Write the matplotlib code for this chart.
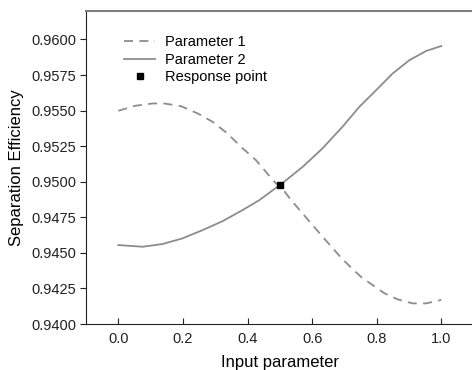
import matplotlib
matplotlib.use("Agg")
import matplotlib.pyplot as plt
from matplotlib.ticker import FormatStrFormatter

# values
x_p1 = [0.0, 0.050, 0.106, 0.142, 0.194, 0.246, 0.292, 0.338, 0.380, 0.426,
        0.457, 0.488, 0.500, 0.535, 0.566, 0.597, 0.628, 0.658, 0.689, 0.720,
        0.751, 0.787, 0.824, 0.865, 0.911, 0.953, 1.0]
y_p1 = [0.95498, 0.95533, 0.95550, 0.95550, 0.95531, 0.95480, 0.95421, 0.95339,
        0.95245, 0.95152, 0.95069, 0.94988, 0.94975, 0.94871, 0.94789, 0.94707,
        0.94625, 0.94548, 0.94468, 0.94398, 0.94332, 0.94274, 0.94216, 0.94173,
        0.94145, 0.94145, 0.94169]

x_p2 = [0.0, 0.075, 0.137, 0.199, 0.261, 0.323, 0.385, 0.437, 0.488, 0.500,
        0.571, 0.632, 0.694, 0.746, 0.798, 0.849, 0.901, 0.953, 1.0]
y_p2 = [0.94555, 0.94543, 0.94562, 0.94602, 0.94660, 0.94723, 0.94801, 0.94871,
        0.94957, 0.94975, 0.95105, 0.95234, 0.95386, 0.95526, 0.95643, 0.95760,
        0.95854, 0.95919, 0.95954]

resp_x = [0.5]
resp_y = [0.94975]

xticks = [0.0, 0.2, 0.4, 0.6, 0.8, 1.0]
yticks = [0.9400, 0.9425, 0.9450, 0.9475, 0.9500, 0.9525, 0.9550, 0.9575, 0.9600]


def main():
    plt.rcParams["font.family"] = ["Liberation Sans", "DejaVu Sans"]
    fig = plt.figure(figsize=(4.72, 3.70), dpi=100)
    ax = fig.add_axes([86 / 472, 46 / 370, 1.2 * 323 / 472, 313 / 370])

    line_color = "#8c8c8c"
    ax.plot(x_p1, y_p1, color=line_color, lw=1.3, dashes=(5, 3.5), label="Parameter 1")
    ax.plot(x_p2, y_p2, color=line_color, lw=1.3, label="Parameter 2")
    ax.plot(resp_x, resp_y, ls="none", marker="s", ms=4, color="black",
            label="Response point", zorder=5)

    ax.set_xlim(-0.1, 1.1)
    ax.set_ylim(0.94, 0.962)
    ax.set_xticks(xticks)
    ax.set_yticks(yticks)
    ax.xaxis.set_major_formatter(FormatStrFormatter("%.1f"))
    ax.yaxis.set_major_formatter(FormatStrFormatter("%.4f"))
    ax.tick_params(axis="x", direction="in", length=4, labelsize=10.5, pad=6,
                   colors="#222222")
    ax.tick_params(axis="y", direction="out", length=4, labelsize=10.5, pad=3,
                   colors="#222222")

    ax.spines["right"].set_visible(False)
    ax.spines["top"].set_color("#808080")
    ax.spines["top"].set_linewidth(1.5)
    ax.spines["left"].set_color("#222222")
    ax.spines["bottom"].set_color("#222222")

    ax.set_xlabel("Input parameter", fontsize=12, labelpad=6)
    ax.set_ylabel("Separation Efficiency", fontsize=12, labelpad=5)

    ax.legend(loc="upper left", bbox_to_anchor=(0.065, 0.965), frameon=False,
              fontsize=10.5, handlelength=2.1, labelspacing=0.25, handletextpad=0.7)

    fig.savefig("out.png", dpi=100)


if __name__ == "__main__":
    main()
